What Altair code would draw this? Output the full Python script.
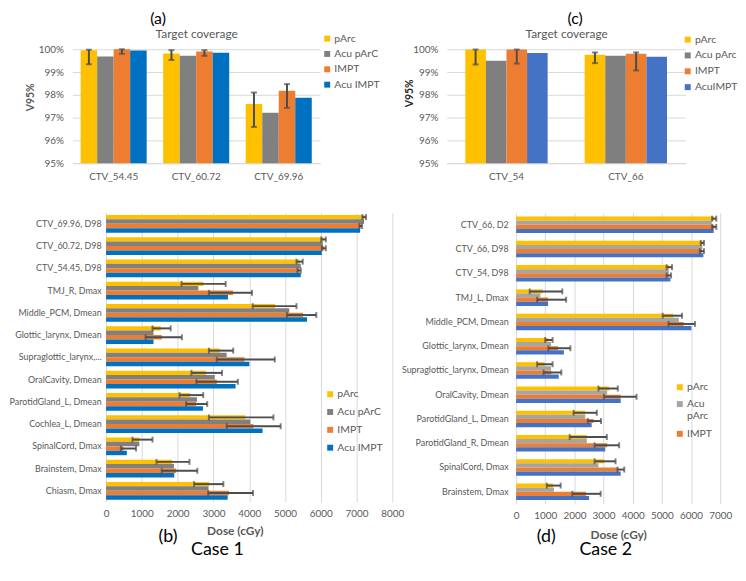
import altair as alt
import pandas as pd

FONT = "Lato"
GRID = "#D9D9D9"
TXT = "#595959"
ERR = "#4D4D4D"

# ---------------- (a) Case 1, target coverage (V95 %) ----------------
A_CATS = ["CTV_54.45", "CTV_60.72", "CTV_69.96"]
A_SERIES = ["pArc", "Acu pArC", "IMPT", "Acu IMPT"]
A_COLORS = ["#FFC000", "#808080", "#ED7D31", "#0070C0"]
A_PARC = [99.96, 99.81, 97.60]
A_ACU_PARC = [99.68, 99.72, 97.21]
A_IMPT = [100.00, 99.90, 98.18]
A_ACU_IMPT = [99.94, 99.85, 97.87]
A_PARC_LO = [99.34, 99.53, 96.59]
A_PARC_HI = [99.98, 99.96, 98.10]
A_IMPT_LO = [99.80, 99.71, 97.43]
A_IMPT_HI = [100.00, 99.96, 98.47]

# ---------------- (c) Case 2, target coverage (V95 %) ----------------
C_CATS = ["CTV_54", "CTV_66"]
C_SERIES = ["pArc", "Acu pArc", "IMPT", "AcuIMPT"]
C_COLORS = ["#FFC000", "#7F7F7F", "#ED7D31", "#4472C4"]
C_PARC = [99.99, 99.76]
C_ACU_PARC = [99.50, 99.71]
C_IMPT = [99.99, 99.80]
C_ACU_IMPT = [99.84, 99.67]
C_PARC_LO = [99.33, 99.39]
C_PARC_HI = [99.99, 99.86]
C_IMPT_LO = [99.37, 99.07]
C_IMPT_HI = [99.99, 99.86]

# ---------------- (b) Case 1, dose (cGy) ----------------
B_CATS = ["CTV_69.96, D98", "CTV_60.72, D98", "CTV_54.45, D98", "TMJ_R, Dmax",
          "Middle_PCM, Dmean", "Glottic_larynx, Dmean", "Supraglottic_larynx, Dmean",
          "OralCavity, Dmean", "ParotidGland_L, Dmean", "Cochlea_L, Dmean",
          "SpinalCord, Dmax", "Brainstem, Dmax", "Chiasm, Dmax"]
B_SERIES = ["pArc", "Acu pArC", "IMPT", "Acu IMPT"]
B_COLORS = ["#FFC000", "#808080", "#ED7D31", "#0070C0"]
B_PARC = [7215, 6077, 5410, 2716, 4724, 1529, 3177, 2790, 2348, 3895, 930, 1851, 2882]
B_PARC_LO = [7164, 6013, 5322, 2109, 4098, 1298, 2873, 2385, 2053, 2873, 737, 1409, 2459]
B_PARC_HI = [7265, 6142, 5497, 3343, 5322, 1805, 3554, 3241, 2716, 4678, 1298, 2330, 3278]
B_ACU_PARC = [7210, 6059, 5442, 2578, 5120, 1326, 3370, 3039, 2541, 4033, 930, 1897, 2864]
B_IMPT = [7118, 6087, 5396, 3545, 5506, 1556, 3867, 3094, 2514, 4116, 488, 1961, 3435]
B_IMPT_LO = [7080, 6031, 5350, 2873, 5055, 1105, 3094, 2523, 2238, 3370, 414, 1556, 2855]
B_IMPT_HI = [7155, 6142, 5442, 4079, 5875, 2118, 4715, 3683, 2827, 4880, 838, 2551, 4107]
B_ACU_IMPT = [7100, 6031, 5442, 3407, 5617, 1326, 4006, 3619, 2707, 4374, 580, 1906, 3398]

# ---------------- (d) Case 2, dose (cGy) ----------------
D_CATS = ["CTV_66, D2", "CTV_66, D98", "CTV_54, D98", "TMJ_L, Dmax",
          "Middle_PCM, Dmean", "Glottic_larynx, Dmean", "Supraglottic_larynx, Dmean",
          "OralCavity, Dmean", "ParotidGland_L, Dmean", "ParotidGland_R, Dmean",
          "SpinalCord, Dmax", "Brainstem, Dmax"]
D_SERIES = ["pArc", "Acu pArc", "IMPT", "Acu IMPT"]
D_COLORS = ["#FFC000", "#A5A5A5", "#ED7D31", "#4472C4"]
D_PARC = [6794, 6390, 5255, 908, 5393, 1107, 975, 3189, 2370, 2425, 3023, 1262]
D_PARC_LO = [6722, 6334, 5161, 465, 5028, 997, 720, 2824, 1971, 1838, 2691, 1052]
D_PARC_HI = [6866, 6445, 5349, 1584, 5692, 1251, 1251, 3488, 2769, 3112, 3411, 1528]
D_ACU_PARC = [6711, 6390, 5238, 830, 5581, 1196, 1196, 3123, 2370, 2425, 2824, 1296]
D_IMPT = [6794, 6373, 5238, 1096, 5748, 1440, 1207, 3588, 2658, 3123, 3499, 2392]
D_IMPT_LO = [6722, 6301, 5161, 720, 5227, 1107, 941, 3012, 2458, 2691, 3477, 1927]
D_IMPT_HI = [6866, 6445, 5316, 1716, 6135, 1860, 1550, 4131, 2912, 3533, 3710, 2901]
D_ACU_IMPT = [6777, 6423, 5293, 1096, 6013, 1639, 1462, 3588, 2591, 3056, 3588, 2503]


def to_long(cats, series, columns):
    return pd.DataFrame([{"cat": c, "series": s, "value": v}
                         for s, col in zip(series, columns) for c, v in zip(cats, col)])


def to_err(cats, series, los, his):
    return pd.DataFrame([{"cat": c, "series": s, "lo": l, "hi": h}
                         for s, lo, hi in zip(series, los, his)
                         for c, l, h in zip(cats, lo, hi)])


def legend(x, y, pad, values=None, expr=None):
    kw = dict(orient="none", legendX=x, legendY=y, title=None, symbolType="square",
              symbolSize=36, symbolStrokeWidth=0, labelFontSize=10.5, labelColor=TXT,
              rowPadding=pad, labelOffset=2, padding=0)
    if values is not None:
        kw["values"] = values
    if expr is not None:
        kw["labelExpr"] = expr
    return alt.Legend(**kw)


def text_axis(orient, text, tx, ty, size, color="black", weight="normal"):
    # an axis that carries only a positioned title (no labels, ticks, grid or line)
    return alt.Axis(orient=orient, labels=False, ticks=False, domain=False, grid=False,
                    title=text, titleX=tx, titleY=ty, titleAngle=0,
                    titleBaseline="middle", titleAlign="center", titleFontSize=size,
                    titleFontWeight=weight, titleColor=color)


def vpanel(cats, series, colors, columns, err_series, los, his, width, height,
           pad_in, pad_out, tag, tag_x, tag_y, tc_pad, yt_x, yt_y, yt_color, min_ext,
           leg):
    bars_df = to_long(cats, series, columns)
    e_df = to_err(cats, err_series, los, his)
    xs = alt.Scale(domain=cats, paddingInner=pad_in, paddingOuter=pad_out)
    offs = alt.Scale(domain=series, paddingInner=0, paddingOuter=0)
    ys = alt.Scale(domain=[95, 100], nice=False, zero=False)
    yaxis = alt.Axis(values=[95, 96, 97, 98, 99, 100], labelExpr="datum.value + '%'",
                     grid=True, gridColor=GRID, domain=False, ticks=False, tickSize=0,
                     labelPadding=9, labelColor=TXT, labelFontSize=10,
                     title="V95%", titleX=yt_x, titleY=yt_y, titleBaseline="middle",
                     titleFontSize=10.5, titleFontWeight="bold", titleColor=yt_color,
                     minExtent=min_ext)
    bars = alt.Chart(bars_df).mark_bar().encode(
        x=alt.X("cat:N", sort=cats, scale=xs,
                axis=alt.Axis(title=None, labelAngle=0, ticks=False, tickSize=0,
                              domainColor=GRID, labelColor=TXT, labelFontSize=10,
                              labelPadding=8)),
        xOffset=alt.XOffset("series:N", sort=series, scale=offs),
        y=alt.Y("value:Q", scale=ys, axis=yaxis),
        y2=alt.datum(95),
        color=alt.Color("series:N", sort=series,
                        scale=alt.Scale(domain=series, range=colors), legend=leg),
    )
    rules = alt.Chart(e_df).mark_rule(color=ERR, strokeWidth=2).encode(
        x=alt.X("cat:N", sort=cats, scale=xs,
                axis=alt.Axis(orient="top", labels=False, ticks=False, domain=False,
                              grid=False, title="Target coverage", titleFontSize=12,
                              titleFontWeight="normal", titleColor=TXT,
                              titlePadding=tc_pad)),
        xOffset=alt.XOffset("series:N", sort=series, scale=offs),
        y=alt.Y("lo:Q", scale=ys, axis=yaxis),
        y2="hi:Q",
    )
    cap_axes = [None, text_axis("top", tag, tag_x, tag_y, 16)]
    caps = []
    for f, ax in zip(["lo", "hi"], cap_axes):
        caps.append(alt.Chart(e_df).mark_tick(color=ERR, thickness=2, size=6,
                                              orient="horizontal").encode(
            x=alt.X("cat:N", sort=cats, scale=xs, axis=ax),
            xOffset=alt.XOffset("series:N", sort=series, scale=offs),
            y=alt.Y(f + ":Q", scale=ys, axis=yaxis),
        ))
    return alt.layer(bars, rules, *caps).resolve_axis(x="independent").properties(
        width=width, height=height)


def hpanel(cats, series, colors, columns, err_series, los, his, width, height,
           x_lo, pad_in, pad_out, xmax, min_ext, lab_pad, dose_x, dose_pad, tag, tag_x,
           tag_y, case_text, case_x, case_y, leg, label_expr):
    bars_df = to_long(cats, series, columns)
    e_df = to_err(cats, err_series, los, his)
    ys = alt.Scale(domain=cats, paddingInner=pad_in, paddingOuter=pad_out)
    offs = alt.Scale(domain=series, paddingInner=0, paddingOuter=0)
    xs = alt.Scale(domain=[0, xmax], range=[x_lo, width], nice=False, zero=True)
    xaxis = alt.Axis(values=list(range(0, xmax + 1, 1000)), format="d", grid=True,
                     gridColor=GRID, domain=False, ticks=False, tickSize=0,
                     labelFlush=False, labelPadding=7, labelColor=TXT, labelFontSize=10,
                     title="Dose (cGy)", titleFontSize=12, titleFontWeight="bold",
                     titleColor=TXT, titleX=dose_x, titlePadding=dose_pad)
    bars = alt.Chart(bars_df).mark_bar().encode(
        y=alt.Y("cat:N", sort=cats, scale=ys,
                axis=alt.Axis(title=None, ticks=False, tickSize=0, domain=False,
                              labelColor=TXT, labelFontSize=9, labelPadding=lab_pad,
                              labelLimit=300, minExtent=min_ext,
                              labelExpr=label_expr)),
        yOffset=alt.YOffset("series:N", sort=series, scale=offs),
        x=alt.X("value:Q", scale=xs, axis=xaxis),
        color=alt.Color("series:N", sort=series,
                        scale=alt.Scale(domain=series, range=colors), legend=leg),
    )
    rules = alt.Chart(e_df).mark_rule(color=ERR, strokeWidth=2).encode(
        y=alt.Y("cat:N", sort=cats, scale=ys,
                axis=text_axis("right", tag, tag_x, tag_y, 18)),
        yOffset=alt.YOffset("series:N", sort=series, scale=offs),
        x=alt.X("lo:Q", scale=xs, axis=None),
        x2="hi:Q",
    )
    cap_axes = [text_axis("bottom", case_text, case_x, case_y, 18), None]
    caps = []
    for f, ax in zip(["lo", "hi"], cap_axes):
        caps.append(alt.Chart(e_df).mark_tick(color=ERR, thickness=2, size=6,
                                              orient="vertical").encode(
            y=alt.Y("cat:N", sort=cats, scale=ys, axis=None),
            yOffset=alt.YOffset("series:N", sort=series, scale=offs),
            x=alt.X(f + ":Q", scale=xs, axis=ax),
        ))
    return alt.layer(bars, rules, *caps).resolve_axis(
        x="independent", y="independent").properties(width=width, height=height)


panel_a = vpanel(A_CATS, A_SERIES, A_COLORS, [A_PARC, A_ACU_PARC, A_IMPT, A_ACU_IMPT],
                 ["pArc", "IMPT"], [A_PARC_LO, A_IMPT_LO], [A_PARC_HI, A_IMPT_HI],
                 250, 115, 0.2, 0.1, "(a)", 86, -31, 9, -42, 48, TXT, 64,
                 legend(252, -16, 4.5))

panel_c = vpanel(C_CATS, C_SERIES, C_COLORS, [C_PARC, C_ACU_PARC, C_IMPT, C_ACU_IMPT],
                 ["pArc", "IMPT"], [C_PARC_LO, C_IMPT_LO], [C_PARC_HI, C_IMPT_HI],
                 241, 115, 0.31, 0.155, "(c)", 129, -31, 9, -38, 44, "#262626", 45,
                 legend(238, -15, 5))

panel_b = hpanel(B_CATS, B_SERIES, B_COLORS, [B_PARC, B_ACU_PARC, B_IMPT, B_ACU_IMPT],
                 ["pArc", "IMPT"], [B_PARC_LO, B_IMPT_LO], [B_PARC_HI, B_IMPT_HI],
                 323, 292, 34, 0.2, 0.1, 8000, 0, -29, 164, 7, "(b)", -227, 327,
                 "Case 1", 146, 48, legend(255, 178, 7),
                 "datum.label == 'Supraglottic_larynx, Dmean' ? 'Supraglottic_larynx,...' : datum.label")

panel_d = hpanel(D_CATS, D_SERIES, D_COLORS, [D_PARC, D_ACU_PARC, D_IMPT, D_ACU_IMPT],
                 ["pArc", "IMPT"], [D_PARC_LO, D_IMPT_LO], [D_PARC_HI, D_IMPT_HI],
                 206, 294, 0, 0.32, 0.16, 7000, 0, 8, 103, 9, "(d)", -176, 327,
                 "Case 2", 90, 46,
                 legend(160, 171, 6, values=["pArc", "Acu pArc", "IMPT"],
                        expr="datum.label == 'Acu pArc' ? ['Acu', 'pArc'] : datum.label"),
                 "datum.label")

RES = dict(color="independent", xOffset="independent", yOffset="independent")
row1 = alt.hconcat(panel_a, panel_c, spacing=128, bounds="flush").resolve_scale(**RES)
row2 = alt.hconcat(panel_b, panel_d, spacing=125, bounds="flush").resolve_scale(**RES)

chart = (
    alt.vconcat(row1, row2, spacing=32)
    .resolve_scale(**RES)
    .properties(padding=0)
    .configure_view(stroke=None)
    .configure_axis(labelFont=FONT, titleFont=FONT)
    .configure_legend(labelFont=FONT)
)

chart.save("out.html", embed_options={"renderer": "svg", "actions": False})
